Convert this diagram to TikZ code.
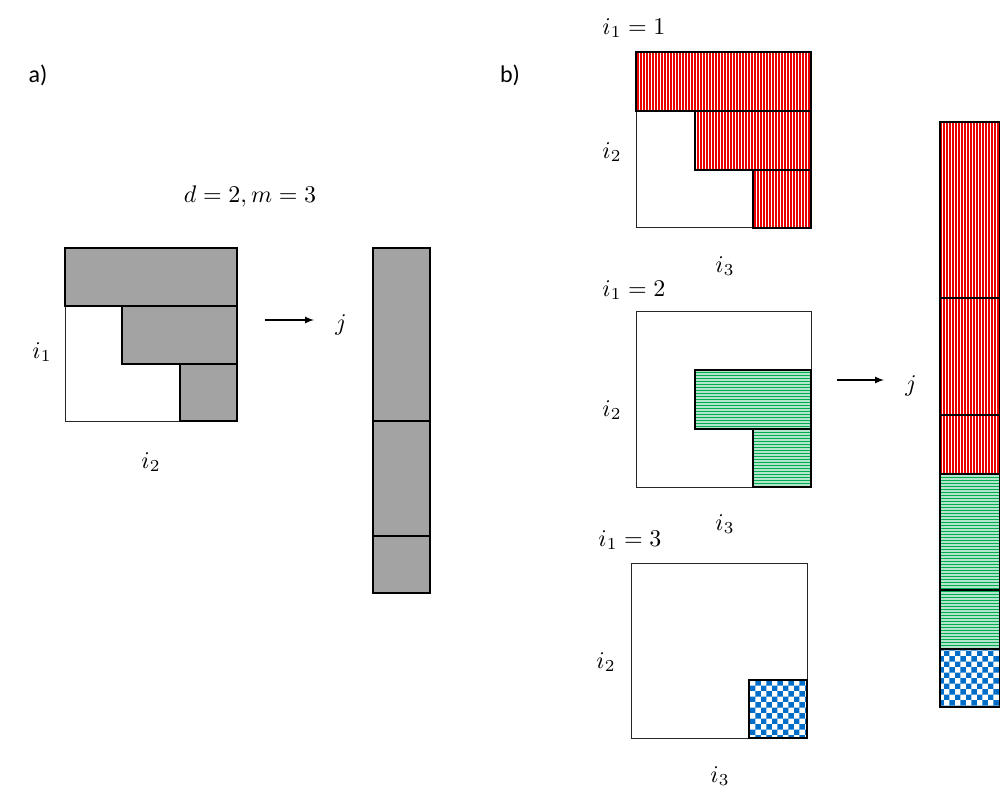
\documentclass[tikz,border=0pt]{standalone}
\usepackage{fontspec}
\setmainfont{Carlito}
\usetikzlibrary{patterns}
\definecolor{redfill}{RGB}{235,0,0}
\definecolor{greenfill}{RGB}{0,170,80}
\definecolor{bluefill}{RGB}{0,110,200}
\tikzset{
  blk/.style={draw=black,line width=1.6pt},
  grayblk/.style={blk,fill=black!36},
  redblk/.style={blk,preaction={fill=redfill},pattern=vertical lines,pattern color=white},
  greenblk/.style={blk,preaction={fill=greenfill!30},pattern=horizontal lines,pattern color=greenfill},
  blueblk/.style={blk,pattern=checkerboard,pattern color=bluefill},
  frame/.style={draw=black!85,line width=1pt},
  lab/.style={scale=2.4,transform shape,inner sep=0pt}
}
\begin{document}
\begin{tikzpicture}[x=1pt,y=-1pt]
\useasboundingbox (0,0) rectangle (1000,802);
% a)
\node[lab] (la) at (38,75) {a)};
\node[lab] (dm) at (250,197) {$d=2, m=3$};
\draw[frame] (65,248) rectangle (237,421);
\draw[grayblk] (65,248) rectangle (237,306);
\draw[grayblk] (122,306) rectangle (237,364);
\draw[grayblk] (180,364) rectangle (237,421);
\node[lab] (ai1) at (42,352) {$i_1$};
\node[lab] (ai2) at (151,462) {$i_2$};
\coordinate (as) at (265,320);
\coordinate (ae) at (314,320);
\draw[line width=2pt,-latex] (as) -- (ae);
\node[lab] (aj) at (341,325) {$j$};
\draw[grayblk] (373,248) rectangle (430,421);
\draw[grayblk] (373,421) rectangle (430,536);
\draw[grayblk] (373,536) rectangle (430,593);
% b)
\node[lab] (lb) at (510,75) {b)};
\node[lab] (t1) at (634,28) {$i_1=1$};
\draw[frame] (636,52) rectangle (811,228);
\draw[redblk] (636,52) rectangle (811,111);
\draw[redblk] (695,111) rectangle (811,170);
\draw[redblk] (753,170) rectangle (811,228);
\node[lab] (b1i2) at (612,152) {$i_2$};
\node[lab] (b1i3) at (725,266) {$i_3$};
\node[lab] (t2) at (634,290) {$i_1=2$};
\draw[frame] (636,311) rectangle (811,487);
\draw[greenblk] (695,370) rectangle (811,429);
\draw[greenblk] (753,429) rectangle (811,487);
\node[lab] (b2i2) at (612,410) {$i_2$};
\node[lab] (b2i3) at (725,524) {$i_3$};
\node[lab] (t3) at (630,540) {$i_1=3$};
\draw[frame] (631,563) rectangle (807,738);
\draw[blueblk] (749,680) rectangle (807,738);
\node[lab] (b3i2) at (606,662) {$i_2$};
\node[lab] (b3i3) at (720,776) {$i_3$};
\coordinate (bs) at (837,380);
\coordinate (be) at (884,380);
\draw[line width=2pt,-latex] (bs) -- (be);
\node[lab] (bj) at (911,386) {$j$};
\draw[redblk] (940,122) rectangle (1000,298);
\draw[redblk] (940,298) rectangle (1000,415);
\draw[redblk] (940,415) rectangle (1000,474);
\draw[greenblk] (940,474) rectangle (1000,590);
\draw[greenblk] (940,590) rectangle (1000,649);
\draw[blueblk] (940,649) rectangle (1000,707);
\end{tikzpicture}
\end{document}
